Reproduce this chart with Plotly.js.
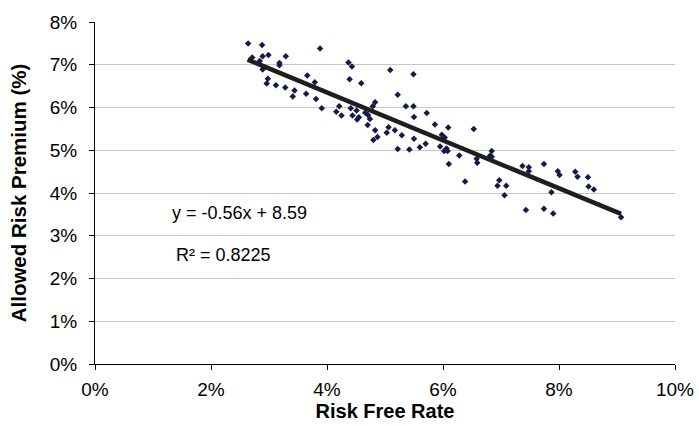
<!DOCTYPE html>
<html>
<head>
<meta charset="utf-8">
<script src="https://cdn.plot.ly/plotly-3.0.1.min.js"></script>
<style>html,body{margin:0;padding:0;background:#fff;}#chart{width:699px;height:426px;}</style>
</head>
<body>
<div id="chart"></div>
<script>
// Risk free rate (%) and allowed risk premium (%)
var riskFree = [2.64,2.88,2.71,2.89,2.99,2.84,3.29,3.88,3.18,3.18,2.89,2.98,2.96,3.12,3.28,3.44,3.41,3.66,3.79,3.64,3.81,3.91,4.37,4.43,4.39,4.21,4.16,4.25,4.41,4.51,4.44,4.52,
  4.59,5.09,5.49,5.22,4.83,4.79,5.36,5.49,5.72,5.50,4.66,4.55,4.71,4.74,4.70,4.83,4.80,4.87,5.06,5.03,5.17,5.29,5.50,5.86,6.09,5.98,6.03,5.70,5.60,5.95,6.06,6.02,6.08,5.22,5.42,6.28,
  6.53,6.58,6.59,6.81,6.84,6.84,6.38,6.97,6.94,7.09,7.06,7.37,7.48,7.48,7.74,7.98,8.01,8.28,8.32,7.87,7.43,7.74,7.90,8.50,8.51,8.60,9.07,6.10];
var premium = [7.50,7.46,7.17,7.20,7.23,7.09,7.20,7.38,7.04,6.99,6.89,6.67,6.56,6.52,6.47,6.40,6.26,6.75,6.59,6.32,6.20,5.98,7.05,6.96,6.66,6.03,5.90,5.81,5.98,5.93,5.81,5.72,
  6.57,6.88,6.78,6.30,6.12,6.03,6.03,6.03,5.87,5.78,5.88,5.77,5.82,5.73,5.59,5.47,5.24,5.31,5.54,5.41,5.47,5.35,5.27,5.60,5.53,5.36,5.30,5.15,5.07,5.09,5.04,4.98,4.98,5.03,5.02,4.88,
  5.50,4.80,4.71,4.87,4.98,4.85,4.27,4.30,4.17,4.17,3.95,4.63,4.60,4.51,4.68,4.51,4.42,4.50,4.38,4.02,3.60,3.63,3.52,4.37,4.15,4.08,3.43,4.68];
// Linear trend line endpoints
var trendX = [2.63, 9.07];
var trendY = [7.12, 3.51];
var xTicks = [0,2,4,6,8,10];
var yTicks = [0,1,2,3,4,5,6,7,8];
var eqText = 'y = -0.56x + 8.59';
var r2Text = 'R² = 0.8225';

var font = 'Liberation Sans, Arial, sans-serif';
var data = [
  {x: riskFree, y: premium, type: 'scatter', mode: 'markers',
   marker: {symbol: 'diamond', size: 5, color: '#141a4a'}, hoverinfo: 'none'},
  {x: trendX, y: trendY, type: 'scatter', mode: 'lines',
   line: {color: '#1e1e1e', width: 4.5}, hoverinfo: 'none'}
];
var layout = {
  width: 699, height: 426,
  margin: {l: 95, r: 24, t: 22, b: 62},
  paper_bgcolor: '#fff', plot_bgcolor: '#fff',
  showlegend: false,
  font: {family: font, size: 19, color: '#000'},
  xaxis: {range: [0, 10], tickvals: xTicks, ticktext: xTicks.map(function(v){return v + '%';}),
    showgrid: false, zeroline: false, showline: true, linecolor: '#000', linewidth: 1,
    ticks: 'outside', ticklen: 5, tickcolor: '#000', tickfont: {size: 19}, ticklabelstandoff: 3,
    title: {text: '<b>Risk Free Rate</b>', font: {size: 20, family: font}, standoff: 4}},
  yaxis: {range: [0, 8], tickvals: yTicks, ticktext: yTicks.map(function(v){return v + '%';}),
    showgrid: true, gridcolor: '#c8c8c8', gridwidth: 1, zeroline: false, showline: true, linecolor: '#000', linewidth: 1,
    ticks: 'outside', ticklen: 5, tickcolor: '#000', tickfont: {size: 19}, ticklabelstandoff: 8,
    title: {text: '<b>Allowed Risk Premium (%)</b>', font: {size: 20.5, family: font}, standoff: 17}},
  annotations: [
    {xref: 'paper', yref: 'paper', x: (170-95)/580, y: (364-213)/342, xanchor: 'left', yanchor: 'middle',
     text: eqText, showarrow: false, font: {size: 18, family: font, color: '#000'}},
    {xref: 'paper', yref: 'paper', x: (174-95)/580, y: (364-255)/342, xanchor: 'left', yanchor: 'middle',
     text: r2Text, showarrow: false, font: {size: 18, family: font, color: '#000'}}
  ]
};
Plotly.newPlot('chart', data, layout, {displayModeBar: false, staticPlot: true});
</script>
</body>
</html>
